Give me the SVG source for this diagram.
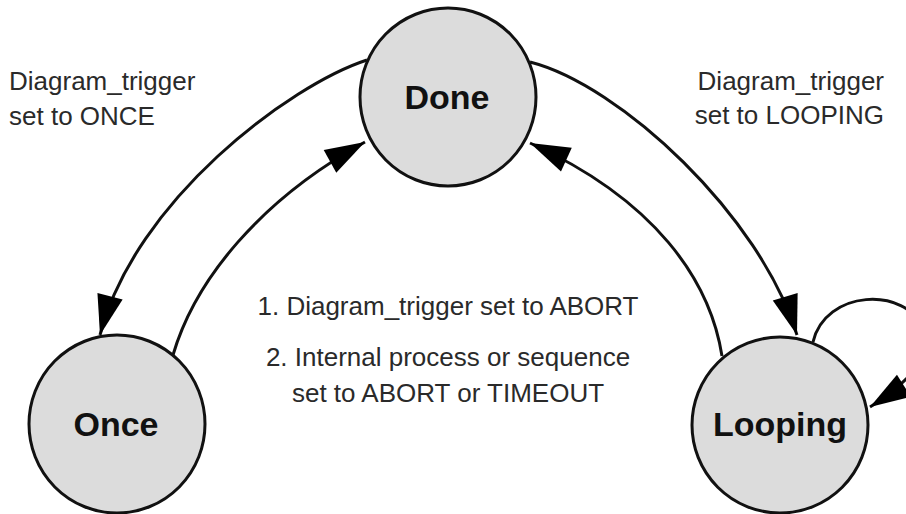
<svg xmlns="http://www.w3.org/2000/svg" width="906" height="514" viewBox="0 0 906 514">
<style>
.node{fill:#dcdcdc;stroke:#111;stroke-width:3}
.nlabel{font-family:"Liberation Sans",Arial,sans-serif;font-weight:bold;font-size:34px;fill:#111;text-anchor:middle}
.label{font-family:"Liberation Sans",Arial,sans-serif;font-size:26px;fill:#2a2a2a}
.edge{fill:none;stroke:#111;stroke-width:3;marker-end:url(#arrow)}
</style>
<defs>
<marker id="arrow" markerUnits="userSpaceOnUse" markerWidth="44" markerHeight="28" refX="40" refY="13" orient="auto" overflow="visible">
<path d="M0,0 L40,13 L0,26 Z" fill="#000"/>
</marker>
</defs>
<rect width="906" height="514" fill="#fff"/>
<g id="connectors">
<path class="edge" d="M367,60 C290,85 135,200 100,335"/>
<path class="edge" d="M173,355 C195,280 260,200 365,142"/>
<path class="edge" d="M530,62 C620,85 760,215 797,335"/>
<path class="edge" d="M722,356 C710,280 655,200 530,143"/>
<path class="edge" d="M813,342 C825,290 905,285 925,330 C935,355 905,385 870,407"/>
</g>
<g id="node-done">
<ellipse class="node" cx="448" cy="97" rx="88" ry="89"/>
<text class="nlabel" x="447" y="109">Done</text>
</g>
<g id="node-once">
<ellipse class="node" cx="117" cy="424" rx="88" ry="89"/>
<text class="nlabel" x="116" y="436">Once</text>
</g>
<g id="node-looping">
<ellipse class="node" cx="780" cy="425" rx="88" ry="88"/>
<text class="nlabel" x="780" y="436">Looping</text>
</g>
<g id="labels">
<text class="label" x="9" y="90">Diagram_trigger</text>
<text class="label" x="9" y="125">set to ONCE</text>
<text class="label" x="884" y="90" text-anchor="end">Diagram_trigger</text>
<text class="label" x="884" y="124" text-anchor="end">set to LOOPING</text>
<text class="label" x="448" y="315" text-anchor="middle">1. Diagram_trigger set to ABORT</text>
<text class="label" x="448" y="366" text-anchor="middle">2. Internal process or sequence</text>
<text class="label" x="448" y="402" text-anchor="middle">set to ABORT or TIMEOUT</text>
</g>
</svg>
